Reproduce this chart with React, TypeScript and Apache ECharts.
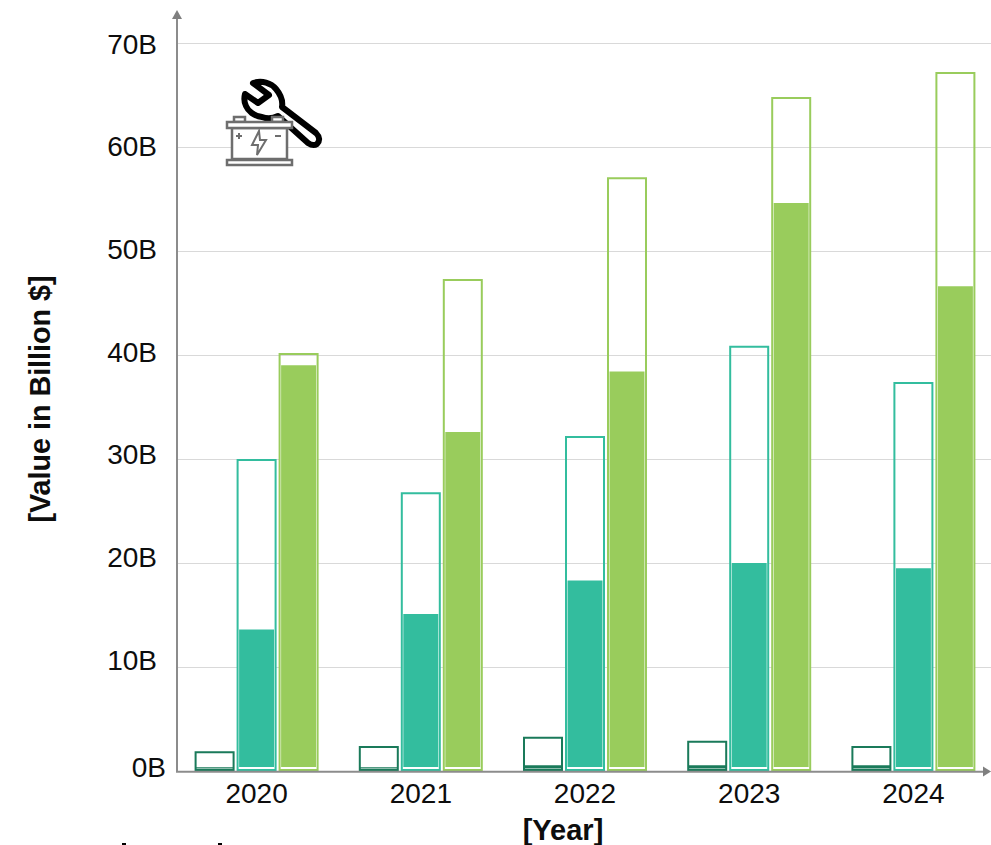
import React, { useEffect, useRef } from "react";
import * as echarts from "echarts";

const years = ["2020", "2021", "2022", "2023", "2024"];
const outlineDark = [1.9, 2.4, 3.3, 2.9, 2.4];
const outlineTeal = [30, 26.8, 32.2, 40.9, 37.4];
const outlineGreen = [40.2, 47.3, 57.1, 64.8, 67.2];
const filledDark = [0.1, 0.1, 0.3, 0.3, 0.3];
const filledTeal = [13.5, 15, 18.2, 19.9, 19.4];
const filledGreen = [38.9, 32.5, 38.3, 54.5, 46.5];

const DARK = "#1a7a5a";
const TEAL = "#33bd9e";
const GREEN = "#99cc5c";
const FONT = "'Liberation Sans', Arial, sans-serif";
const GRAY = "#6e6e6e";
const AXIS = "#8c8c8c";
const INK = "#0d0d0d";

echarts.graphic.registerShape(
  "wrenchIcon",
  echarts.graphic.extendPath(
    "M253 83 C262 80 271 83 276 89 C281 95 283 101 282 107 L316 133 C320 137 320 141 317 144 C314 146 311 145 308 143 L278 116 C272 119 267 119 262 117 C254 116 248 111 246 106 C244 102 244 98 245 94 L258 103 L269 95 Z",
    {}
  )
);

const outline = (name: string, data: number[], color: string) => ({
  name,
  type: "bar",
  data,
  xAxisIndex: 0,
  yAxisIndex: 0,
  barWidth: 40,
  barGap: "5%",
  z: 5,
  itemStyle: { color: "transparent", borderColor: color, borderWidth: 2 },
});

const filled = (name: string, data: number[], color: string, border: string, bw: number) => ({
  name,
  type: "bar",
  data,
  xAxisIndex: 1,
  yAxisIndex: 1,
  barWidth: 38,
  barGap: "10.5%",
  z: 3,
  itemStyle: { color, borderColor: border, borderWidth: bw },
});

export default function App() {
  const ref = useRef<HTMLDivElement>(null);
  useEffect(() => {
    const chart = echarts.init(ref.current!, undefined, { renderer: "svg" });
    chart.setOption({
      animation: false,
      backgroundColor: "#ffffff",
      grid: [
        { left: 174.5, width: 821, top: 43, height: 728 },
        { left: 177, width: 814, top: 44, height: 718.7 },
      ],
      xAxis: [
        {
          type: "category",
          data: years,
          axisTick: { show: false },
          axisLine: { show: false },
          axisLabel: { color: INK, fontSize: 28, fontFamily: FONT, margin: 8 },
        },
        { type: "category", data: years, show: false },
        { type: "category", data: years, show: false, gridIndex: 1 },
      ],
      yAxis: [
        {
          type: "value",
          min: 0,
          max: 70,
          interval: 10,
          axisLine: { show: false },
          axisTick: { show: false },
          axisLabel: { show: false },
          splitLine: { lineStyle: { color: "#d9d9d9", width: 1 } },
        },
        { type: "value", min: -0.25, max: 69.75, show: false, splitLine: { show: false } },
        {
          type: "value",
          gridIndex: 1,
          min: 0,
          max: 70,
          interval: 10,
          axisLine: { show: false },
          axisTick: { show: false },
          splitLine: { show: false },
          axisLabel: {
            color: INK,
            fontSize: 28,
            fontFamily: FONT,
            margin: 11,
            formatter: (v: number) => (v === 0 ? `{z|${v}B}` : `{n|${v}B}`),
            rich: {
              n: { color: INK, fontSize: 28, fontFamily: FONT, padding: [0, 9, 0, 0] },
              z: { color: INK, fontSize: 28, fontFamily: FONT, padding: [10, 0, 0, 0] },
            },
          },
        },
      ],
      series: [
        filled("Filled dark", filledDark, DARK, DARK, 0),
        filled("Filled teal", filledTeal, TEAL, "#ffffff", 1.5),
        filled("Filled green", filledGreen, GREEN, "#ffffff", 1.5),
        outline("Outline dark", outlineDark, DARK),
        outline("Outline teal", outlineTeal, TEAL),
        outline("Outline green", outlineGreen, GREEN),
      ],
      graphic: [
        { type: "rect", z: 1, shape: { x: 170, y: 36, width: 6, height: 740 }, style: { fill: "#fff" } },
        { type: "line", z: 10, shape: { x1: 177, y1: 772, x2: 177, y2: 17 }, style: { stroke: AXIS, lineWidth: 2 } },
        { type: "line", z: 10, shape: { x1: 176, y1: 771.7, x2: 985, y2: 771.7 }, style: { stroke: AXIS, lineWidth: 2 } },
        { type: "polygon", z: 10, shape: { points: [[177, 10], [172, 19], [182, 19]] }, style: { fill: "#7f7f7f" } },
        { type: "polygon", z: 10, shape: { points: [[991, 771.5], [983, 766.5], [983, 776.5]] }, style: { fill: "#7f7f7f" } },
        {
          type: "text",
          x: 40,
          y: 399,
          rotation: Math.PI / 2,
          style: { text: "[Value in Billion $]", fontSize: 28.7, fontWeight: "bold", fontFamily: FONT, fill: INK, align: "center", verticalAlign: "middle" },
        },
        {
          type: "text",
          x: 563,
          y: 830,
          style: { text: "[Year]", fontSize: 29, fontWeight: "bold", fontFamily: FONT, fill: INK, align: "center", verticalAlign: "middle" },
        },
        { type: "wrenchIcon", z: 6, style: { fill: "#fff", stroke: "#000", lineWidth: 6, lineJoin: "round" } },
        { type: "rect", z: 7, shape: { x: 234, y: 117, width: 11, height: 5 }, style: { fill: "#fff", stroke: GRAY, lineWidth: 2.5 } },
        { type: "rect", z: 7, shape: { x: 272, y: 117, width: 11, height: 5 }, style: { fill: "#fff", stroke: GRAY, lineWidth: 2.5 } },
        { type: "rect", z: 7, shape: { x: 232, y: 128, width: 55, height: 31 }, style: { fill: "#fff", stroke: GRAY, lineWidth: 2.5 } },
        { type: "rect", z: 7, shape: { x: 227, y: 122, width: 65, height: 6 }, style: { fill: "#fff", stroke: GRAY, lineWidth: 2.5 } },
        { type: "rect", z: 7, shape: { x: 227, y: 160, width: 65, height: 5 }, style: { fill: "#fff", stroke: GRAY, lineWidth: 2.5 } },
        { type: "polyline", z: 8, shape: { points: [[236, 136], [242, 136]] }, style: { stroke: GRAY, lineWidth: 2, fill: "none" } },
        { type: "polyline", z: 8, shape: { points: [[239, 133], [239, 139]] }, style: { stroke: GRAY, lineWidth: 2, fill: "none" } },
        { type: "polyline", z: 8, shape: { points: [[275, 136], [281, 136]] }, style: { stroke: GRAY, lineWidth: 2, fill: "none" } },
        { type: "polygon", z: 8, shape: { points: [[259, 131], [252, 145], [258, 145], [257, 155], [266, 140], [260, 140]] }, style: { fill: "#fff", stroke: GRAY, lineWidth: 2 } },
        { type: "rect", z: 8, shape: { x: 122, y: 843, width: 4, height: 2 }, style: { fill: "#000" } },
        { type: "rect", z: 8, shape: { x: 218, y: 843, width: 4, height: 2 }, style: { fill: "#000" } },
      ],
    });
    return () => chart.dispose();
  }, []);
  return (
    <div style={{ position: "absolute", left: 0, top: 0, width: 991, height: 845, overflow: "hidden" }}>
      <div ref={ref} style={{ width: 1000, height: 845 }} />
    </div>
  );
}
